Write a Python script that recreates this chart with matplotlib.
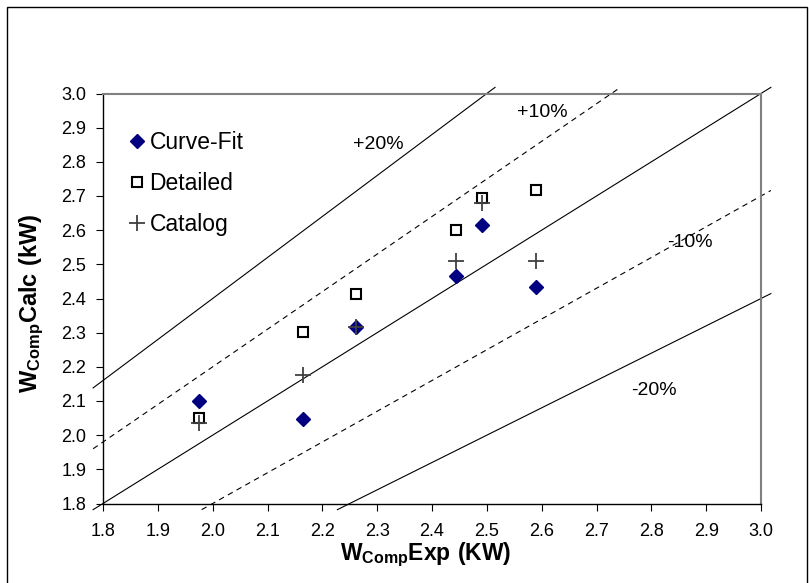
import matplotlib
matplotlib.use("Agg")
import matplotlib.pyplot as plt
from matplotlib.patches import Rectangle
import numpy as np

plt.rcParams['font.family'] = ['Liberation Sans', 'DejaVu Sans']
plt.rcParams['mathtext.fontset'] = 'custom'
plt.rcParams['mathtext.rm'] = 'Liberation Sans'
plt.rcParams['mathtext.bf'] = 'Liberation Sans:bold'

# Data
w_exp = [1.975, 2.164, 2.262, 2.444, 2.492, 2.590]
curve_fit = [2.100, 2.047, 2.318, 2.466, 2.614, 2.433]
detailed = [2.049, 2.303, 2.413, 2.600, 2.693, 2.717]
catalog = [2.035, 2.176, 2.318, 2.511, 2.680, 2.511]

ticks = [1.8, 1.9, 2.0, 2.1, 2.2, 2.3, 2.4, 2.5, 2.6, 2.7, 2.8, 2.9, 3.0]
tick_labels = ["1.8", "1.9", "2.0", "2.1", "2.2", "2.3", "2.4", "2.5", "2.6", "2.7", "2.8", "2.9", "3.0"]

band_factors = [1.2, 1.1, 1.0, 0.9, 0.8]
band_styles = ['-', '--', '-', '--', '-']
band_labels = ["+20%", "+10%", "-10%", "-20%"]
band_label_pos = [(2.302, 2.850), (2.602, 2.943), (2.871, 2.565), (2.805, 2.132)]

W, H = 809, 583
fig = plt.figure(figsize=(W / 100, H / 100), dpi=100)
ax = fig.add_axes([103 / W, (H - 503.5) / H, (761 - 103) / W, (503.5 - 93.5) / H])

lo, hi = 1.8, 3.0
ext = 0.018
for f, ls in zip(band_factors, band_styles):
    x0 = max(lo - ext, (lo - ext) / f)
    x1 = min(hi + ext, (hi + ext) / f)
    xs = np.array([x0, x1])
    ax.plot(xs, f * xs, ls=ls, color='black', lw=0.8, clip_on=False,
            dashes=(5, 4) if ls == '--' else (None, None), zorder=2)

ax.plot(w_exp, curve_fit, ls='none', marker='D', markersize=7.5, color='#000080',
        label='Curve-Fit', zorder=3)
ax.plot(w_exp, detailed, ls='none', marker='s', markersize=7.5, markerfacecolor='none',
        markeredgecolor='black', markeredgewidth=1.5, label='Detailed', zorder=4)
ax.plot(w_exp, catalog, ls='none', marker='+', markersize=12, color='#404040',
        markeredgewidth=1.3, label='Catalog', zorder=5)

for lab, (px, py) in zip(band_labels, band_label_pos):
    ax.text(px, py, lab, fontsize=14, ha='center', va='center')

ax.set_xlim(lo, hi)
ax.set_ylim(lo, hi)
ax.set_xticks(ticks)
ax.set_xticklabels(tick_labels, fontsize=13)
ax.set_yticks(ticks)
ax.set_yticklabels(tick_labels, fontsize=13)
ax.tick_params(direction='out', length=5, width=0.8, top=False, right=False)
ax.tick_params(axis='x', pad=9)
ax.tick_params(axis='y', pad=7)

for s in ['left', 'bottom']:
    ax.spines[s].set_color('black')
    ax.spines[s].set_linewidth(1.0)
for s in ['top', 'right']:
    ax.spines[s].set_color('#808080')
    ax.spines[s].set_linewidth(1.5)

leg = ax.legend(loc='upper left', bbox_to_anchor=(0.02, 0.93), frameon=False, fontsize=16.5,
                handletextpad=0.05, labelspacing=0.78, handlelength=1.0, borderaxespad=0)

fig.text(426 / W, 1 - 555 / H, r'$\mathbf{W_{Comp}Exp\ (KW)}$', fontsize=16.5,
         ha='center', va='center')
fig.text(32 / W, 1 - 303 / H, r'$\mathbf{W_{Comp}Calc\ (kW)}$', fontsize=17,
         ha='center', va='center', rotation=90)

fig.add_artist(Rectangle((7.5 / W, -0.05), (807 - 7.5) / W, 1.05 - 7.5 / H,
                         transform=fig.transFigure, fill=False, edgecolor='black', lw=1.0))

fig.savefig('out.png', dpi=100)
